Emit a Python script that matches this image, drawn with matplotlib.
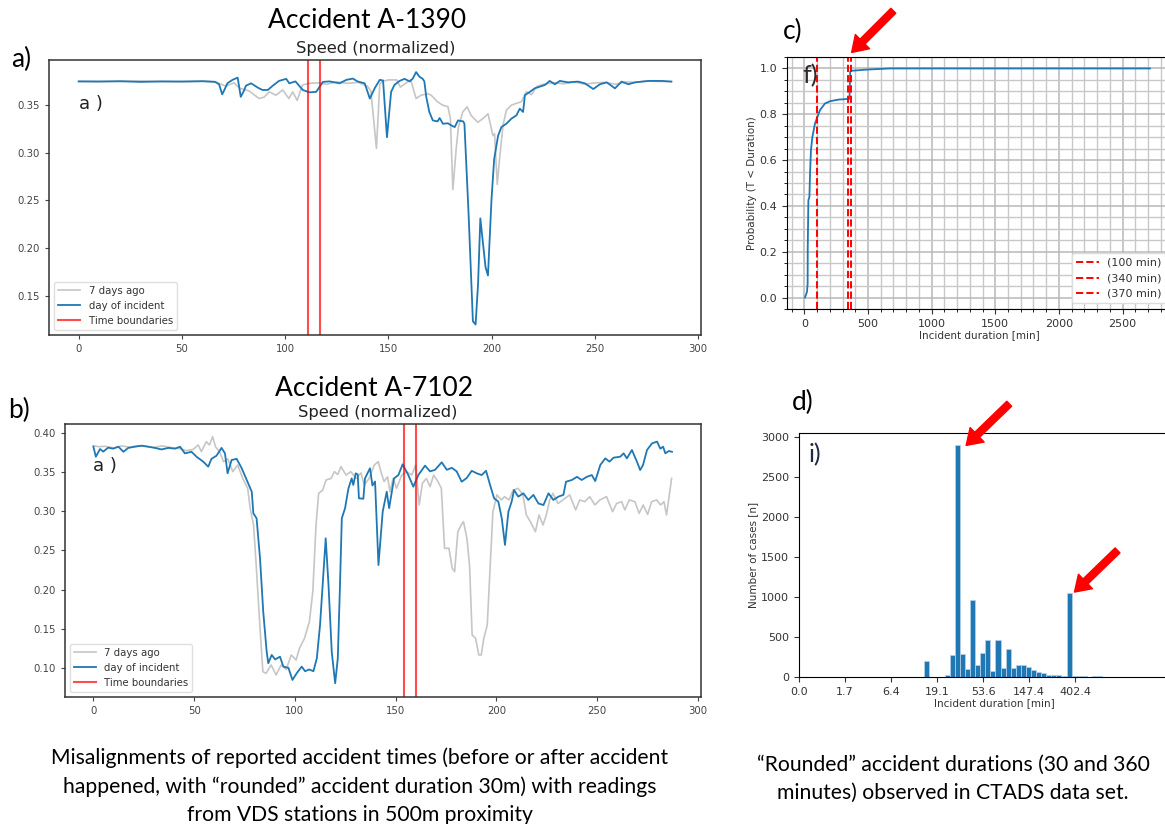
import matplotlib
matplotlib.use("Agg")
import matplotlib.pyplot as plt
import numpy as np
from matplotlib.ticker import MultipleLocator, FixedLocator, FixedFormatter

W, H = 1165, 824

# ---- panel a) accident A-1390, speed (normalized) ----
a_incident_x = [0, 10, 20, 30, 40, 50, 60, 66, 68, 69.5, 71, 72, 74.5, 77, 78.5, 80, 81, 83.5,
                86.8, 89, 91.6, 94, 97, 100.5, 102, 105, 108.5, 111.8, 115, 118.3, 121.5, 126.4,
                129.6, 132.8, 135, 138.5, 141, 143.4, 145.8, 147.4, 149.3, 151.3, 152.9, 155.4,
                157.8, 160.3, 161.8, 163.4, 165, 166.6, 167.4, 168.3, 169.8, 171.5, 173.8, 174.8,
                176.4, 178.8, 180.5, 182.1, 183.7, 186.2, 186.8, 188.8, 190.9, 192.2, 193.4, 194.5,
                195.8, 197, 198.2, 199.9, 201.2, 203.1, 204.7, 207.1, 209.5, 212, 213.6, 215.2,
                216.1, 218.5, 220.8, 223.3, 225.8, 228.1, 230.6, 233, 237, 241.8, 245.1, 249.2,
                252.4, 255.7, 259.7, 262.9, 266.2, 269.4, 275.9, 282.4, 287]
a_incident_y = [0.375, 0.3748, 0.3752, 0.3745, 0.375, 0.3748, 0.3752, 0.3745, 0.372, 0.3614,
                0.368, 0.373, 0.3766, 0.379, 0.3588, 0.365, 0.3705, 0.373, 0.3684, 0.366, 0.366,
                0.3705, 0.3755, 0.3777, 0.373, 0.375, 0.366, 0.3635, 0.364, 0.3745, 0.375, 0.373,
                0.3766, 0.378, 0.375, 0.373, 0.357, 0.368, 0.3766, 0.376, 0.3163, 0.364, 0.3713,
                0.3755, 0.3777, 0.375, 0.378, 0.3848, 0.380, 0.3777, 0.375, 0.3589, 0.3429, 0.334,
                0.333, 0.3365, 0.3305, 0.331, 0.3287, 0.327, 0.334, 0.333, 0.3305, 0.2365, 0.123,
                0.1195, 0.162, 0.231, 0.2046, 0.180, 0.171, 0.2507, 0.2933, 0.318, 0.327, 0.3305,
                0.3358, 0.3394, 0.3464, 0.3429, 0.3606, 0.364, 0.3677, 0.3695, 0.3713, 0.3755,
                0.372, 0.3755, 0.374, 0.3748, 0.373, 0.367, 0.372, 0.374, 0.3677, 0.3748, 0.372,
                0.374, 0.3755, 0.3755, 0.3748]
a_week_x = [0, 10, 20, 30, 40, 50, 60, 66, 71.2, 75.3, 77.8, 82.5, 87.4, 89.8, 92.3, 95.5, 98.8,
            101.8, 103.7, 105.8, 108.4, 111.6, 116, 120, 125, 130, 135.3, 139.8, 141.5, 144.2,
            145.8, 147, 150, 154, 155.8, 158.3, 160.8, 163.4, 165.8, 169, 170.7, 173.8, 176.3,
            178.8, 180, 181.2, 182.8, 183.9, 186, 188.1, 190, 193.3, 195.8, 198.2, 199.5, 200.6,
            201.4, 202.7, 203.8, 205.5, 207.1, 209.5, 212, 214.4, 216.8, 219.3, 221.7, 225, 230,
            235, 240, 245, 250, 255, 260, 265, 270, 275, 280, 287]
a_week_y = [0.375, 0.3752, 0.375, 0.3755, 0.3748, 0.375, 0.3752, 0.3748, 0.370, 0.3735, 0.368,
            0.365, 0.357, 0.3585, 0.364, 0.3605, 0.366, 0.357, 0.364, 0.355, 0.3712, 0.373,
            0.3735, 0.372, 0.3745, 0.373, 0.374, 0.370, 0.365, 0.3046, 0.372, 0.375, 0.3766,
            0.3766, 0.369, 0.373, 0.3766, 0.357, 0.3605, 0.362, 0.3605, 0.3535, 0.350, 0.3485,
            0.336, 0.2614, 0.304, 0.327, 0.3429, 0.3483, 0.3394, 0.332, 0.336, 0.341, 0.3287,
            0.318, 0.320, 0.2667, 0.2933, 0.329, 0.3447, 0.35, 0.352, 0.3536, 0.3642, 0.361,
            0.3695, 0.372, 0.3735, 0.3725, 0.3745, 0.372, 0.3735, 0.374, 0.372, 0.3745, 0.374,
            0.3755, 0.375, 0.3748]
a_bounds = [111, 117]

# ---- panel b) accident A-7102 ----
b_incident_x = [0, 1.2, 3.3, 4.9, 7.3, 9.8, 12.4, 14.9, 17.3, 20.6, 23.9, 27.2, 30.5, 33.8, 37.2,
                40.5, 43, 45.4, 48.7, 51.2, 54.5, 57, 58.6, 61.1, 63.6, 65.3, 66.6, 68.6, 71.1,
                73.6, 76.1, 78.6, 79.4, 81, 82.7, 84.3, 86, 86.8, 88.5, 90.2, 92.6, 94.3, 96.8,
                98.8, 100.9, 103.4, 105.1, 107.1, 109.2, 110.9, 112.5, 114.2, 115.3, 116.7, 118.3,
                120, 121.3, 122.4, 123.3, 124.9, 126.6, 128.2, 129, 130.2, 131.2, 131.8, 134,
                134.8, 137.3, 138.5, 139.8, 141.5, 143.6, 145.6, 146.8, 149.2, 151.4, 153.5, 156.3,
                158.8, 161.3, 164.6, 167.1, 169.6, 172.9, 175.4, 177.9, 180.3, 182.8, 185.3, 187.8,
                190.3, 192.7, 194.9, 196.9, 198.9, 201, 202.7, 204.3, 206, 207.6, 208.8, 210.9,
                213.4, 215.9, 218.4, 220.9, 223.4, 225.9, 228.3, 230.8, 233.3, 234.6, 237.5, 240,
                242.4, 244.9, 247.4, 249.1, 251.6, 254.1, 256.2, 258.2, 261.5, 263.2, 264.8, 267.3,
                269.8, 271.4, 272.8, 274.8, 277.3, 279.8, 281.4, 282.8, 283.9, 285.6, 287.2]
b_incident_y = [0.3825, 0.3697, 0.3796, 0.3762, 0.3813, 0.380, 0.3825, 0.376, 0.381, 0.3825,
                0.3838, 0.3825, 0.381, 0.379, 0.381, 0.380, 0.3825, 0.374, 0.376, 0.3697, 0.3634,
                0.357, 0.367, 0.371, 0.381, 0.374, 0.3485, 0.3655, 0.367, 0.355, 0.340, 0.325,
                0.2974, 0.291, 0.240, 0.1718, 0.1207, 0.1059, 0.1165, 0.1108, 0.1143, 0.1016, 0.1,
                0.0846, 0.0931, 0.1016, 0.0957, 0.098, 0.0957, 0.1123, 0.1548, 0.2229, 0.2655,
                0.2059, 0.1207, 0.0803, 0.112, 0.206, 0.291, 0.3038, 0.3293, 0.342, 0.3336, 0.3485,
                0.347, 0.3166, 0.316, 0.342, 0.355, 0.333, 0.338, 0.2314, 0.2995, 0.325, 0.304,
                0.342, 0.3463, 0.36, 0.3463, 0.3314, 0.3463, 0.3583, 0.351, 0.353, 0.3626, 0.353,
                0.3555, 0.351, 0.3378, 0.3425, 0.3517, 0.3485, 0.3463, 0.3517, 0.3336, 0.3166,
                0.3123, 0.291, 0.257, 0.2995, 0.3123, 0.3272, 0.3187, 0.323, 0.3145, 0.321, 0.310,
                0.308, 0.323, 0.3145, 0.3187, 0.321, 0.3378, 0.340, 0.344, 0.340, 0.344, 0.3463,
                0.3386, 0.3591, 0.3676, 0.3634, 0.3685, 0.3697, 0.374, 0.3676, 0.3783, 0.3634,
                0.3527, 0.359, 0.3783, 0.3868, 0.389, 0.380, 0.3825, 0.374, 0.377, 0.376]
b_week_x = [0, 2.5, 6, 10, 14, 18, 22, 26, 30, 34, 39.8, 43, 46, 49.5, 52, 53.6, 56, 57.6, 59.2,
            60.6, 62.6, 64.6, 66.7, 69.2, 71.6, 74.1, 76.6, 77.8, 79.5, 80.8, 82.4, 84.1, 85.7,
            88.2, 90.7, 93.2, 95.7, 98.2, 100.6, 102.3, 104.8, 107.2, 108.9, 110.5, 111.8, 113.8,
            115.5, 118, 119.6, 121.3, 122.9, 125.4, 127.8, 130.3, 132.8, 134.4, 136.9, 139.4,
            141.4, 142.7, 144.3, 146, 147.2, 148.8, 150.5, 153, 155.4, 158, 160, 161.7, 163.3,
            165.3, 167.1, 168.9, 171, 172.7, 174.3, 176.5, 178.1, 179.3, 180.9, 182.6, 183.7,
            185.4, 186.7, 188, 189.7, 191.3, 192.5, 193.8, 195.5, 197, 198.3, 200.3, 202.5, 204.1,
            206.3, 208.3, 210.8, 213.2, 214.9, 216.9, 219.4, 221.2, 223.2, 224.8, 226.5, 228.1,
            230.6, 233.1, 236.4, 239.4, 241.4, 243.9, 246.4, 248.9, 251.4, 254.7, 257.7, 259.7,
            262.2, 263.8, 266, 268.8, 270.9, 272.9, 275.1, 277.1, 279.6, 281.5, 283.2, 284.5, 287]
b_week_y = [0.3838, 0.3825, 0.383, 0.381, 0.3835, 0.382, 0.3838, 0.383, 0.3815, 0.3835, 0.381,
            0.380, 0.3775, 0.379, 0.3847, 0.3762, 0.389, 0.3847, 0.3953, 0.3825, 0.3762, 0.3634,
            0.367, 0.3506, 0.359, 0.342, 0.3293, 0.3038, 0.2825, 0.2314, 0.1633, 0.0952, 0.093,
            0.1037, 0.091, 0.1037, 0.098, 0.1165, 0.110, 0.125, 0.1378, 0.159, 0.1973, 0.2825,
            0.323, 0.327, 0.340, 0.342, 0.3506, 0.347, 0.357, 0.3463, 0.3506, 0.342, 0.349,
            0.3336, 0.342, 0.359, 0.3634, 0.3506, 0.338, 0.344, 0.325, 0.342, 0.3293, 0.346,
            0.3506, 0.3463, 0.3591, 0.308, 0.3357, 0.342, 0.3314, 0.3463, 0.338, 0.3293, 0.2527,
            0.2527, 0.2272, 0.2229, 0.274, 0.2825, 0.2868, 0.2655, 0.2314, 0.142, 0.1378, 0.1165,
            0.1165, 0.1378, 0.1548, 0.2314, 0.2995, 0.321, 0.3145, 0.3187, 0.3145, 0.327, 0.3293,
            0.321, 0.2953, 0.2868, 0.274, 0.2953, 0.2825, 0.2953, 0.3145, 0.323, 0.310, 0.3145,
            0.321, 0.3017, 0.3145, 0.3123, 0.3187, 0.3081, 0.3145, 0.3187, 0.2995, 0.310, 0.3123,
            0.3017, 0.3145, 0.3123, 0.2974, 0.3081, 0.296, 0.3123, 0.3145, 0.3081, 0.3123,
            0.2953, 0.342]
b_bounds = [154, 160]

# ---- panel c) CDF of incident duration ----
cdf_minutes = [5, 21, 26, 26.7, 32, 40, 45, 52, 63, 84, 97, 123, 162, 202, 267, 346, 355, 360,
               372, 490, 673, 1000, 1500, 2000, 2500, 2715]
cdf_prob = [0.0, 0.025, 0.06, 0.207, 0.425, 0.44, 0.54, 0.643, 0.70, 0.76, 0.78, 0.818, 0.847,
            0.857, 0.864, 0.867, 0.868, 0.985, 0.99, 0.995, 1.0, 1.0, 1.0, 1.0, 1.0, 1.0]
cdf_marks = [100, 340, 370]

# ---- panel d) histogram of log1p(duration) ----
hist_first_edge = 2.725
hist_bin_width = 0.1104
hist_counts = [200, 0, 0, 0, 20, 280, 2900, 293, 96, 962, 150, 296, 462, 79, 467, 108, 346, 112,
               150, 150, 129, 87, 67, 54, 25, 20, 25, 12, 1046, 17, 17, 12, 4, 17, 17]
hist_tick_pos = [0, 1, 2, 3, 4, 5, 6]

BLUE = "#1f77b4"
GRAY = "#c6c6c6"
LBL_FONT = ["Lato", "DejaVu Sans"]

fig = plt.figure(figsize=(W / 100, H / 100), dpi=100)


def px_axes(left, top, right, bottom):
    return fig.add_axes([left / W, 1 - bottom / H, (right - left) / W, (bottom - top) / H])


def fig_text(x, y, s, **kw):
    fig.text(x / W, 1 - y / H, s, ha="center", va="center", **kw)


def speed_panel(ax, xs_week, ys_week, xs_inc, ys_inc, bounds):
    ax.plot(xs_week, ys_week, color=GRAY, lw=1.2, label="7 days ago")
    ax.plot(xs_inc, ys_inc, color=BLUE, lw=1.3, label="day of incident")
    for i, b in enumerate(bounds):
        ax.axvline(b, color="red", alpha=0.7, lw=1.5, label="Time boundaries" if i == 0 else None)
    ax.set_xlim(-14.35, 301.35)
    ax.tick_params(labelsize=7.3, colors="#444444", length=3)
    for sp in ax.spines.values():
        sp.set_color("#333333")
        sp.set_linewidth(1.1)
    ax.legend(loc="lower left", fontsize=7.3, handlelength=2.2, framealpha=0.8,
              edgecolor="#d8d8d8", labelcolor="#333333")


# panel a
ax_a = px_axes(49, 60, 701, 335)
speed_panel(ax_a, a_week_x, a_week_y, a_incident_x, a_incident_y, a_bounds)
ax_a.set_ylim(0.1085, 0.3975)
ax_a.text(0.065, 0.84, "a )", transform=ax_a.transAxes, fontsize=13, color="#222222",
          ha="center", va="center")

# panel b
ax_b = px_axes(64.5, 424, 700.5, 697)
speed_panel(ax_b, b_week_x, b_week_y, b_incident_x, b_incident_y, b_bounds)
ax_b.set_ylim(0.0628, 0.4115)
ax_b.text(0.064, 0.847, "a )", transform=ax_b.transAxes, fontsize=13, color="#222222",
          ha="center", va="center")

# panel c
ax_c = px_axes(787, 57, 1172, 309)
ax_c.plot(cdf_minutes, cdf_prob, color=BLUE, lw=1.3)
for m in cdf_marks:
    ax_c.axvline(m, color="red", ls="--", lw=1.4, label=f"({m} min)")
ax_c.set_xlim(-136, 2888)
ax_c.set_ylim(-0.05, 1.05)
ax_c.xaxis.set_minor_locator(MultipleLocator(100))
ax_c.yaxis.set_minor_locator(MultipleLocator(0.05))
ax_c.grid(which="major", color="#b8b8b8", lw=1.1)
ax_c.grid(which="minor", color="#c8c8c8", lw=1.0)
ax_c.set_axisbelow(True)
ax_c.tick_params(labelsize=8, colors="#333333")
ax_c.set_xlabel("Incident duration [min]", fontsize=7.5, color="#333333", labelpad=1)
ax_c.set_ylabel("Probability (T < Duration)", fontsize=7.5, color="#333333", labelpad=2)
ax_c.legend(loc="lower right", fontsize=8, labelcolor="#333333", edgecolor="#dddddd",
            framealpha=1.0)
ax_c.text(0.06, 0.925, "f)", transform=ax_c.transAxes, fontsize=18, family=LBL_FONT,
          color="#2e2a2a", ha="center", va="center")
ax_c.annotate("", xy=(372, 1.07), xytext=(30, 30), textcoords="offset points",
              annotation_clip=False,
              arrowprops=dict(arrowstyle="simple,head_width=1.45,head_length=1.1,tail_width=0.5",
                              color="red", mutation_scale=10, shrinkA=0, shrinkB=0))

# panel d
ax_d = px_axes(799, 433, 1190, 677)
edges = hist_first_edge + hist_bin_width * np.arange(len(hist_counts))
ax_d.bar(edges, hist_counts, width=hist_bin_width, align="edge", color=BLUE,
         edgecolor="#b9d3ea", linewidth=0.5)
ax_d.set_xlim(0, 8.5)
ax_d.set_ylim(0, 3045)
ax_d.xaxis.set_major_locator(FixedLocator(hist_tick_pos))
ax_d.xaxis.set_major_formatter(FixedFormatter([f"{np.expm1(t):.1f}" for t in hist_tick_pos]))
ax_d.tick_params(labelsize=8, colors="#333333")
ax_d.set_xlabel("Incident duration [min]", fontsize=7.5, color="#333333", labelpad=1)
ax_d.set_ylabel("Number of cases [n]", fontsize=7.5, color="#333333", labelpad=2)
ax_d.text(0.04, 0.91, "i)", transform=ax_d.transAxes, fontsize=18, family=LBL_FONT,
          color="#1f2a44", ha="center", va="center")
arrow = dict(arrowstyle="simple,head_width=1.45,head_length=1.1,tail_width=0.5",
             color="red", mutation_scale=10, shrinkA=0, shrinkB=0)
ax_d.annotate("", xy=(np.log1p(30) + 0.2, 2890), xytext=(31, 30), textcoords="offset points",
              arrowprops=arrow, annotation_clip=False)
ax_d.annotate("", xy=(np.log1p(360) + 0.1, 1060), xytext=(31, 30), textcoords="offset points",
              arrowprops=arrow, annotation_clip=False)

# titles, panel letters and captions
fig_text(367, 20, "Accident A-1390", fontsize=19, family=LBL_FONT)
fig_text(376, 48, "Speed (normalized)", fontsize=11.7, color="#222222")
fig_text(374, 388, "Accident A-7102", fontsize=19, family=LBL_FONT)
fig_text(378, 412, "Speed (normalized)", fontsize=11.7, color="#222222")
fig_text(21, 59, "a)", fontsize=19, family=LBL_FONT)
fig_text(19, 410, "b)", fontsize=19, family=LBL_FONT)
fig_text(793, 31, "c)", fontsize=19, family=LBL_FONT)
fig_text(803, 402, "d)", fontsize=19, family=LBL_FONT)
fig_text(360, 786, "Misalignments of reported accident times (before or after accident\n"
         "happened, with \u201crounded\u201d accident duration 30m) with readings\n"
         "from VDS stations in 500m proximity", fontsize=15.2, family=LBL_FONT, linespacing=1.49)
fig_text(953, 779, "\u201cRounded\u201d accident durations (30 and 360\n"
         "minutes) observed in CTADS data set.", fontsize=15.2, family=LBL_FONT, linespacing=1.49)

fig.savefig("out.png", dpi=100)
